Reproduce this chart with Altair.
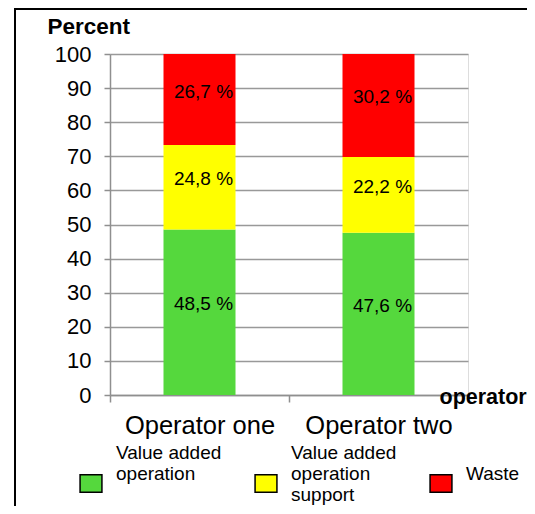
import altair as alt
import pandas as pd

operators = ["Operator one", "Operator two"]
categories = ["Value added\noperation", "Value added\noperation\nsupport", "Waste"]
value_added = [48.5, 47.6]
support = [24.8, 22.2]
waste = [26.7, 30.2]
colors = ["#55d83d", "#ffff00", "#ff0000"]
y_ticks = [0, 10, 20, 30, 40, 50, 60, 70, 80, 90, 100]

rows = []
for i, op in enumerate(operators):
    for k, (cat, vals) in enumerate(zip(categories, [value_added, support, waste])):
        v = vals[i]
        rows.append({"operator": op, "category": cat, "value": v, "order": k,
                     "label": f"{v:.1f}".replace(".", ",") + " %"})
df = pd.DataFrame(rows)

FONT = "Liberation Sans"

x_axis = alt.Axis(title="operator", titleFontWeight="bold", titleFontSize=21.5,
                  titleX=329, titleY=8, titleAlign="left", titleBaseline="alphabetic",
                  titleColor="black", titleFont=FONT,
                  labelAngle=0, labelFontSize=25.5, labelColor="black", labelFont=FONT,
                  labelPadding=11, tickBand="extent", tickSize=7, tickColor="#8f8f8f",
                  tickWidth=1.5, domainColor="#8f8f8f", domainWidth=1.5, grid=False)
x_scale = alt.Scale(paddingInner=0, paddingOuter=0)

y_axis = alt.Axis(values=y_ticks, tickCount=11, labelOverlap=False,
                  title="Percent", titleAngle=0, titleX=-63, titleY=-21,
                  titleAlign="left", titleBaseline="alphabetic", titleFontWeight="bold",
                  titleFontSize=22.5, titleColor="black", titleFont=FONT,
                  labelFontSize=22, labelColor="black", labelFont=FONT, labelPadding=13,
                  tickSize=6, tickColor="#8f8f8f", tickWidth=1.5,
                  domainColor="#8f8f8f", domainWidth=1.5,
                  grid=True, gridColor="#999999", gridWidth=1.5)
y_scale = alt.Scale(domain=[0, 100], nice=False)

legend_label_expr = (
    "datum.label == 'Waste' ? ['', 'Waste', ''] : "
    "(indexof(datum.label, 'support') >= 0 ? split(datum.label, '\\n') "
    ": split(datum.label + '\\n ', '\\n'))"
)

base = alt.Chart(df)

bars = base.mark_bar(width=72).encode(
    x=alt.X("operator:N", sort=operators, scale=x_scale, axis=x_axis),
    y=alt.Y("value:Q", stack="zero", scale=y_scale, axis=y_axis),
    order=alt.Order("order:Q"),
    color=alt.Color("category:N", scale=alt.Scale(domain=categories, range=colors),
                    legend=alt.Legend(orient="none", legendX=-31, legendY=387,
                                      direction="horizontal", columns=3, title=None,
                                      symbolType="M-1,2.0L1,2.0L1,3.6L-1,3.6Z", symbolSize=478,
                                      symbolStrokeColor="black", symbolStrokeWidth=1.5,
                                      labelFontSize=19, labelFont=FONT, labelColor="black",
                                      labelOffset=13, columnPadding=30, labelLimit=300,
                                      labelOverlap=False,
                                      labelExpr=legend_label_expr)),
)

labels = base.mark_text(fontSize=19, font=FONT, color="black", dx=4, dy=-8).encode(
    x=alt.X("operator:N", sort=operators, scale=x_scale, axis=x_axis),
    y=alt.Y("value:Q", stack="zero", bandPosition=0.5, scale=y_scale, axis=y_axis),
    order=alt.Order("order:Q"),
    detail="category:N",
    text="label:N",
)

frame_left = alt.Chart(pd.DataFrame({"a": [0]})).mark_rule(color="black", strokeWidth=2).encode(
    x=alt.value(-95), y=alt.value(-45), y2=alt.value(452))
frame_top = alt.Chart(pd.DataFrame({"a": [0]})).mark_rule(color="black", strokeWidth=2).encode(
    x=alt.value(-96), x2=alt.value(417), y=alt.value(-45))

chart = alt.layer(bars, labels, frame_left, frame_top).properties(
    width=358, height=341,
    padding={"left": 102, "top": 46, "right": 59, "bottom": 111},
    autosize="none",
).configure_view(stroke=None).configure(background="white")

chart.save("out.html", embed_options={"renderer": "svg", "actions": False})
